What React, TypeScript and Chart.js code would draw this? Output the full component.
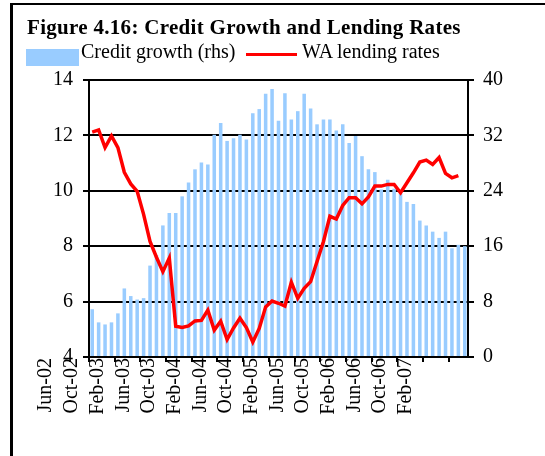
import React, { useEffect, useRef } from "react";
import { Chart, registerables } from "chart.js";

Chart.register(...registerables);

const months = [
  "Jun-02", "Jul-02", "Aug-02", "Sep-02", "Oct-02", "Nov-02", "Dec-02",
  "Jan-03", "Feb-03", "Mar-03", "Apr-03", "May-03", "Jun-03", "Jul-03", "Aug-03", "Sep-03", "Oct-03", "Nov-03", "Dec-03",
  "Jan-04", "Feb-04", "Mar-04", "Apr-04", "May-04", "Jun-04", "Jul-04", "Aug-04", "Sep-04", "Oct-04", "Nov-04", "Dec-04",
  "Jan-05", "Feb-05", "Mar-05", "Apr-05", "May-05", "Jun-05", "Jul-05", "Aug-05", "Sep-05", "Oct-05", "Nov-05", "Dec-05",
  "Jan-06", "Feb-06", "Mar-06", "Apr-06", "May-06", "Jun-06", "Jul-06", "Aug-06", "Sep-06", "Oct-06", "Nov-06", "Dec-06",
  "Jan-07", "Feb-07", "Mar-07", "Apr-07",
];

// Credit growth (rhs), %
const creditGrowth = [
  6.9, 5.0, 4.7, 5.0, 6.3, 9.9, 8.8, 8.3, 8.5, 13.2,
  14.7, 19.0, 20.8, 20.8, 23.2, 25.2, 27.1, 28.1, 27.8, 32.1,
  33.8, 31.2, 31.6, 32.1, 31.4, 35.2, 35.8, 38.0, 38.7, 34.1,
  38.1, 34.3, 35.5, 38.0, 35.9, 33.6, 34.3, 34.3, 32.7, 33.6,
  30.9, 31.9, 29.0, 27.1, 26.7, 24.2, 25.6, 24.3, 23.6, 22.4,
  22.1, 19.7, 19.0, 18.1, 17.2, 18.1, 15.7, 16.2, 16.0,
];

// WA lending rates (lhs), %
const lendingRates: (number | null)[] = [
  12.12, 12.2, 11.56, 11.98, 11.56, 10.67, 10.25, 9.98, 9.15, 8.17,
  7.6, 7.08, 7.57, 5.11, 5.07, 5.12, 5.3, 5.32, 5.69, 4.97,
  5.29, 4.63, 5.05, 5.4, 5.06, 4.54, 5.03, 5.81, 6.02, 5.94,
  5.84, 6.7, 6.12, 6.48, 6.72, 7.45, 8.17, 9.08, 8.98, 9.47,
  9.75, 9.75, 9.53, 9.78, 10.17, 10.17, 10.23, 10.23, 9.93, 10.29,
  10.65, 11.04, 11.11, 10.95, 11.2, 10.63, 10.47, 10.55, null,
];

const leftAxis = { min: 4, max: 14, step: 2 };
const rightAxis = { min: 0, max: 40, step: 8 };

const titleText = "Figure 4.16: Credit Growth and Lending Rates";
const barLabel = "Credit growth (rhs)";
const lineLabel = "WA lending rates";

const FONT = "'Liberation Serif', 'Times New Roman', serif";

export default function App() {
  const canvasRef = useRef<HTMLCanvasElement | null>(null);

  useEffect(() => {
    const canvas = canvasRef.current;
    if (!canvas) return;
    const tickFont = { family: FONT, size: 20 };
    const chart = new Chart(canvas, {
      data: {
        labels: months,
        datasets: [
          {
            type: "line",
            label: lineLabel,
            data: lendingRates,
            yAxisID: "y",
            borderColor: "#FF0000",
            backgroundColor: "#FF0000",
            borderWidth: 3.5,
            pointRadius: 0,
            tension: 0,
            order: 0,
          },
          {
            type: "bar",
            label: barLabel,
            data: creditGrowth,
            yAxisID: "y1",
            backgroundColor: "#99CCFF",
            categoryPercentage: 1,
            barPercentage: 0.55,
            order: 1,
          },
        ],
      } as any,
      options: {
        responsive: false,
        animation: false,
        devicePixelRatio: 1,
        layout: { padding: { top: 80, left: 0, right: 0, bottom: 0 } },
        plugins: {
          legend: { display: false },
          tooltip: { enabled: false },
          title: { display: false },
        },
        scales: {
          x: {
            type: "category",
            offset: true,
            grid: {
              offset: true,
              drawOnChartArea: false,
              drawTicks: true,
              tickLength: 5,
              lineWidth: 2,
              color: (c: any) => (c.index % 4 === 0 ? "#000" : "rgba(0,0,0,0)"),
            },
            border: { display: true, color: "#000", width: 2 },
            ticks: {
              autoSkip: false,
              maxRotation: 90,
              minRotation: 90,
              labelOffset: -46,
              padding: -4,
              color: "#000",
              font: tickFont,
              callback: (_v: any, i: number) => (i % 4 === 0 ? months[i] : ""),
            },
            afterFit: (s: any) => {
              s.height = 99;
            },
          },
          y: {
            position: "left",
            min: leftAxis.min,
            max: leftAxis.max,
            grid: { color: "#000", lineWidth: 2, tickLength: 6 },
            border: { display: true, color: "#000", width: 2 },
            ticks: { stepSize: leftAxis.step, padding: 10, color: "#000", font: tickFont },
            afterFit: (s: any) => {
              s.width = 89;
            },
          },
          y1: {
            position: "right",
            min: rightAxis.min,
            max: rightAxis.max,
            grid: { drawOnChartArea: false, color: "#000", lineWidth: 2, tickLength: 6 },
            border: { display: true, color: "#000", width: 2 },
            ticks: { stepSize: rightAxis.step, padding: 9, color: "#000", font: tickFont },
            afterFit: (s: any) => {
              s.width = 77;
            },
          },
        },
      } as any,
    });
    return () => chart.destroy();
  }, []);

  const textBase = (size: number, baseline: number, left: number, bold = false): React.CSSProperties => ({
    position: "absolute",
    left,
    top: baseline - 0.8375 * size,
    fontFamily: FONT,
    fontSize: size,
    lineHeight: `${size}px`,
    fontWeight: bold ? "bold" : "normal",
    whiteSpace: "nowrap",
    color: "#000",
  });

  return (
    <div
      style={{
        position: "absolute",
        left: 0,
        top: 0,
        width: 545,
        height: 456,
        overflow: "hidden",
        background: "#fff",
      }}
    >
      <canvas ref={canvasRef} width={545} height={456} style={{ position: "absolute", left: 0, top: 0 }} />
      <div
        style={{
          position: "absolute",
          left: 10,
          top: 3,
          width: 600,
          height: 600,
          borderTop: "2px solid #000",
          borderLeft: "3px solid #000",
          boxSizing: "border-box",
        }}
      />
      <div style={{ ...textBase(21, 35, 27, true), letterSpacing: "0.3px" }}>{titleText}</div>
      <div style={{ position: "absolute", left: 26, top: 49, width: 53, height: 17, background: "#99CCFF" }} />
      <div style={textBase(20, 58, 81)}>{barLabel}</div>
      <div style={{ position: "absolute", left: 246, top: 53, width: 51, height: 3, background: "#FF0000" }} />
      <div style={textBase(20, 58, 302)}>{lineLabel}</div>
    </div>
  );
}
